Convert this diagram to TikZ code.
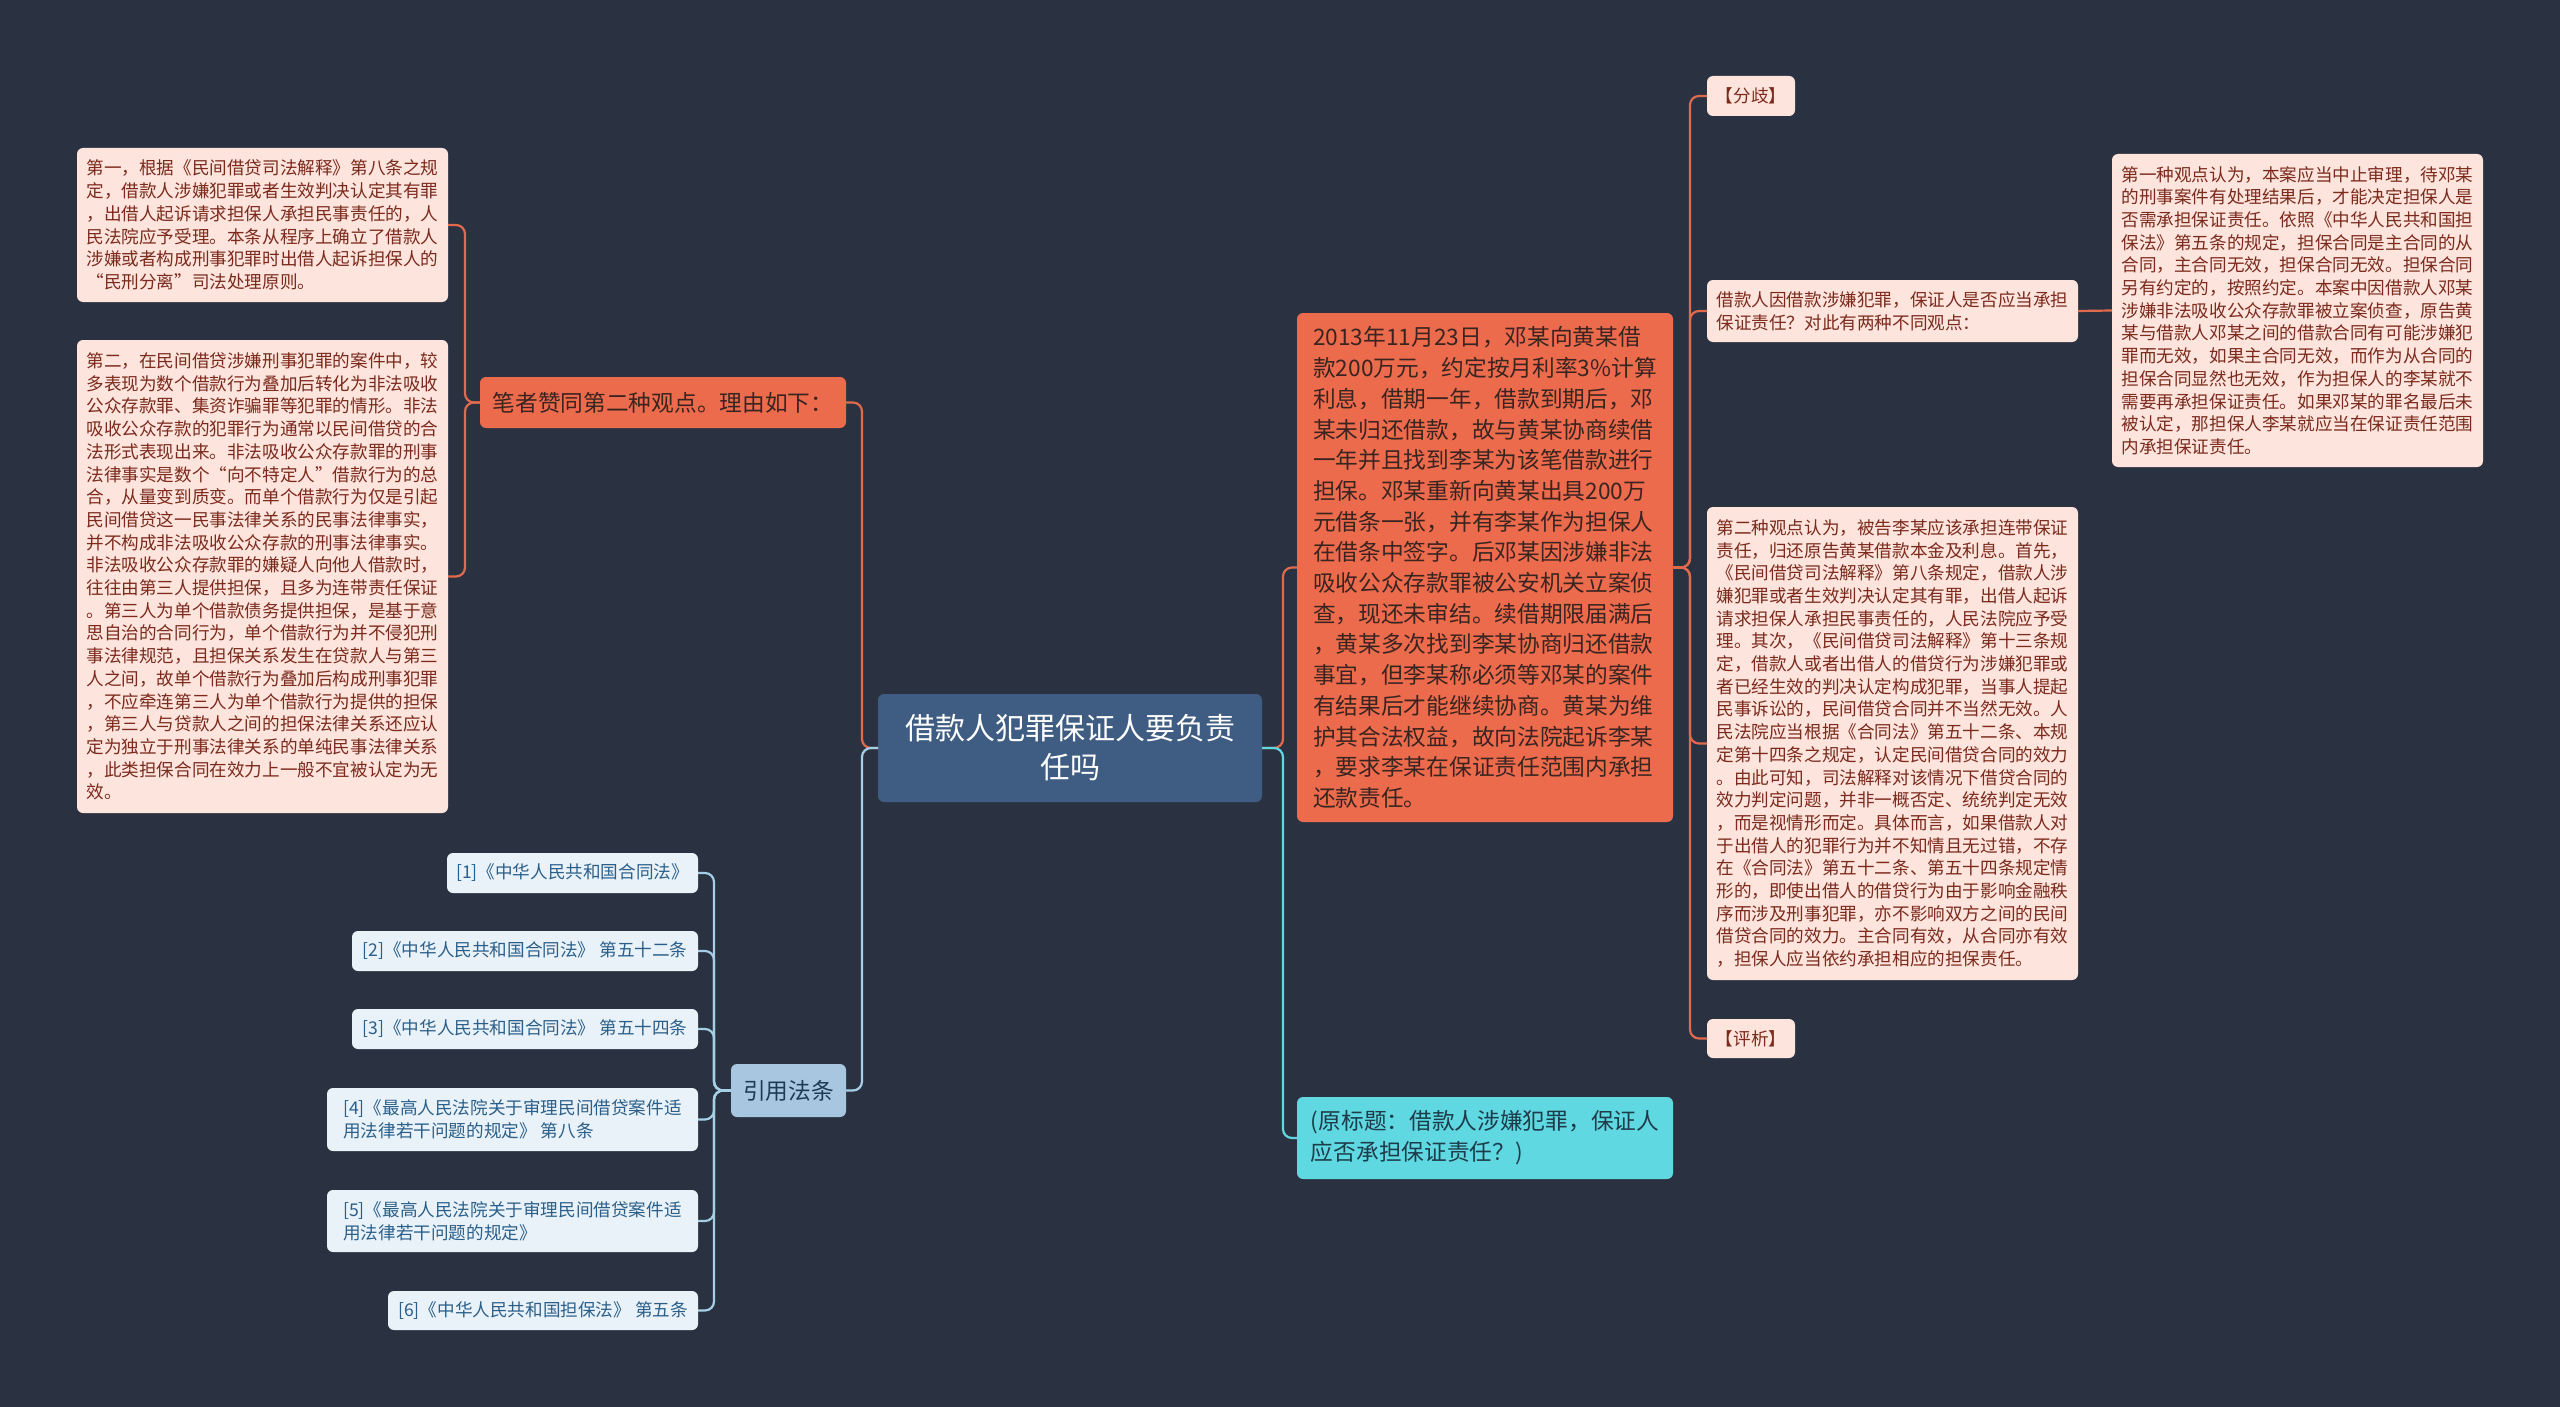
\documentclass[tikz,border=0pt]{standalone}
\usepackage{fontspec}
\setmainfont{Noto Sans CJK SC}
\definecolor{bg}{HTML}{2A3241}
\definecolor{ctrfill}{HTML}{3F5D82}
\definecolor{orfill}{HTML}{EC6B4D}
\definecolor{ortext}{HTML}{3A2420}
\definecolor{palefill}{HTML}{FDE4DD}
\definecolor{paletext}{HTML}{7B2A1C}
\definecolor{cyfill}{HTML}{5FD8E1}
\definecolor{cytext}{HTML}{1D3C4A}
\definecolor{reffill}{HTML}{A9C6E0}
\definecolor{reftext}{HTML}{1F3A55}
\definecolor{citefill}{HTML}{E9F2F8}
\definecolor{citetext}{HTML}{2B5F8A}
\definecolor{orline}{HTML}{E06A4E}
\definecolor{blline}{HTML}{A4CFE6}
\definecolor{cyline}{HTML}{5FD8E1}
\begin{document}
\begin{tikzpicture}[x=1pt,y=-1pt,
  box/.style={rectangle, rounded corners=6pt, inner sep=0pt, outer sep=0pt, align=left},
  pale/.style={box, fill=palefill, text=paletext, font=\fontsize{17.6}{22.7}\selectfont},
  cite/.style={box, fill=citefill, text=citetext, font=\fontsize{17.6}{22.7}\selectfont},
  bigor/.style={box, fill=orfill, text=ortext, font=\fontsize{22.7}{30.7}\selectfont},
  oline/.style={draw=orline, line width=2.2pt, rounded corners=9pt},
  bline/.style={draw=blline, line width=2.2pt, rounded corners=9pt},
  cline/.style={draw=cyline, line width=2.2pt, rounded corners=9pt}
]
\useasboundingbox (0,0) rectangle (2560,1407);
\fill[bg] (0,0) rectangle (2560,1407);

% central node
\node[box, fill=ctrfill, text=white, align=center, minimum width=384pt, minimum height=108pt,
  font=\fontsize{30}{39}\selectfont] (ctr) at (1070,748) {借款人犯罪保证人要负责\\任吗};

% right side
\node[bigor, minimum width=376pt, minimum height=509pt] (ob) at (1485,567.5)
{2013年11月23日，邓某向黄某借\\款200万元，约定按月利率3\%计算\\利息，借期一年，借款到期后，邓\\某未归还借款，故与黄某协商续借\\一年并且找到李某为该笔借款进行\\担保。邓某重新向黄某出具200万\\元借条一张，并有李某作为担保人\\在借条中签字。后邓某因涉嫌非法\\吸收公众存款罪被公安机关立案侦\\查，现还未审结。续借期限届满后\\，黄某多次找到李某协商归还借款\\事宜，但李某称必须等邓某的案件\\有结果后才能继续协商。黄某为维\\护其合法权益，故向法院起诉李某\\，要求李某在保证责任范围内承担\\还款责任。};

\node[box, fill=cyfill, text=cytext, minimum width=376pt, minimum height=82pt,
  font=\fontsize{22.7}{30.7}\selectfont] (yt) at (1485,1138)
{(原标题：借款人涉嫌犯罪，保证人\\应否承担保证责任？)};

\node[pale, minimum width=88pt, minimum height=40pt] (fq) at (1751,96) {【分歧】};
\node[pale, minimum width=371pt, minimum height=62pt] (jk) at (1892.5,311)
{借款人因借款涉嫌犯罪，保证人是否应当承担\\保证责任？对此有两种不同观点：};
\node[pale, minimum width=371pt, minimum height=313pt] (gd1) at (2297.5,310.5)
{第一种观点认为，本案应当中止审理，待邓某\\的刑事案件有处理结果后，才能决定担保人是\\否需承担保证责任。依照《中华人民共和国担\\保法》第五条的规定，担保合同是主合同的从\\合同，主合同无效，担保合同无效。担保合同\\另有约定的，按照约定。本案中因借款人邓某\\涉嫌非法吸收公众存款罪被立案侦查，原告黄\\某与借款人邓某之间的借款合同有可能涉嫌犯\\罪而无效，如果主合同无效，而作为从合同的\\担保合同显然也无效，作为担保人的李某就不\\需要再承担保证责任。如果邓某的罪名最后未\\被认定，那担保人李某就应当在保证责任范围\\内承担保证责任。};
\node[pale, minimum width=371pt, minimum height=473pt] (gd2) at (1892.5,743.5)
{第二种观点认为，被告李某应该承担连带保证\\责任，归还原告黄某借款本金及利息。首先，\\《民间借贷司法解释》第八条规定，借款人涉\\嫌犯罪或者生效判决认定其有罪，出借人起诉\\请求担保人承担民事责任的，人民法院应予受\\理。其次，《民间借贷司法解释》第十三条规\\定，借款人或者出借人的借贷行为涉嫌犯罪或\\者已经生效的判决认定构成犯罪，当事人提起\\民事诉讼的，民间借贷合同并不当然无效。人\\民法院应当根据《合同法》第五十二条、本规\\定第十四条之规定，认定民间借贷合同的效力\\。由此可知，司法解释对该情况下借贷合同的\\效力判定问题，并非一概否定、统统判定无效\\，而是视情形而定。具体而言，如果借款人对\\于出借人的犯罪行为并不知情且无过错，不存\\在《合同法》第五十二条、第五十四条规定情\\形的，即使出借人的借贷行为由于影响金融秩\\序而涉及刑事犯罪，亦不影响双方之间的民间\\借贷合同的效力。主合同有效，从合同亦有效\\，担保人应当依约承担相应的担保责任。};
\node[pale, minimum width=88pt, minimum height=39pt] (px) at (1751,1038.5) {【评析】};

% left side
\node[bigor, minimum width=366pt, minimum height=51pt] (bz) at (663,402.5) {笔者赞同第二种观点。理由如下：};
\node[pale, minimum width=371pt, minimum height=154pt] (ly1) at (262.5,225)
{第一，根据《民间借贷司法解释》第八条之规\\定，借款人涉嫌犯罪或者生效判决认定其有罪\\，出借人起诉请求担保人承担民事责任的，人\\民法院应予受理。本条从程序上确立了借款人\\涉嫌或者构成刑事犯罪时出借人起诉担保人的\\“民刑分离”司法处理原则。};
\node[pale, minimum width=371pt, minimum height=473pt] (ly2) at (262.5,576.5)
{第二，在民间借贷涉嫌刑事犯罪的案件中，较\\多表现为数个借款行为叠加后转化为非法吸收\\公众存款罪、集资诈骗罪等犯罪的情形。非法\\吸收公众存款的犯罪行为通常以民间借贷的合\\法形式表现出来。非法吸收公众存款罪的刑事\\法律事实是数个“向不特定人”借款行为的总\\合，从量变到质变。而单个借款行为仅是引起\\民间借贷这一民事法律关系的民事法律事实，\\并不构成非法吸收公众存款的刑事法律事实。\\非法吸收公众存款罪的嫌疑人向他人借款时，\\往往由第三人提供担保，且多为连带责任保证\\。第三人为单个借款债务提供担保，是基于意\\思自治的合同行为，单个借款行为并不侵犯刑\\事法律规范，且担保关系发生在贷款人与第三\\人之间，故单个借款行为叠加后构成刑事犯罪\\，不应牵连第三人为单个借款行为提供的担保\\，第三人与贷款人之间的担保法律关系还应认\\定为独立于刑事法律关系的单纯民事法律关系\\，此类担保合同在效力上一般不宜被认定为无\\效。};

\node[box, fill=reffill, text=reftext, minimum width=115pt, minimum height=53pt,
  font=\fontsize{22.7}{30.7}\selectfont] (yy) at (788.5,1090.5) {引用法条};
\node[cite, minimum width=251pt, minimum height=40pt] (c1) at (572.5,873) {[1]《中华人民共和国合同法》};
\node[cite, minimum width=346pt, minimum height=40pt] (c2) at (525,951) {[2]《中华人民共和国合同法》 第五十二条};
\node[cite, minimum width=346pt, minimum height=40pt] (c3) at (525,1029) {[3]《中华人民共和国合同法》 第五十四条};
\node[cite, minimum width=371pt, minimum height=63pt] (c4) at (512.5,1119.5) {[4]《最高人民法院关于审理民间借贷案件适\\用法律若干问题的规定》 第八条};
\node[cite, minimum width=371pt, minimum height=62pt] (c5) at (512.5,1221) {[5]《最高人民法院关于审理民间借贷案件适\\用法律若干问题的规定》};
\node[cite, minimum width=310pt, minimum height=39pt] (c6) at (543,1310.5) {[6]《中华人民共和国担保法》 第五条};

% connectors right
\draw[oline] (ctr.east) -- ++(21,0) |- (ob.west);
\draw[cline] (ctr.east) -- ++(21,0) |- (yt.west);
\draw[oline] (ob.east) -- ++(17,0) |- (fq.west);
\draw[oline] (ob.east) -- ++(17,0) |- (jk.west);
\draw[oline] (ob.east) -- ++(17,0) |- (gd2.west);
\draw[oline] (ob.east) -- ++(17,0) |- (px.west);
\draw[oline] (jk.east) -- (gd1.west);

% connectors left
\draw[oline] (ctr.west) -- ++(-16,0) |- (bz.east);
\draw[bline] (ctr.west) -- ++(-16,0) |- (yy.east);
\draw[oline] (bz.west) -- ++(-15,0) |- (ly1.east);
\draw[oline] (bz.west) -- ++(-15,0) |- (ly2.east);
\foreach \c in {c1,c2,c3,c4,c5,c6}
  \draw[bline] (yy.west) -- ++(-17,0) |- (\c.east);
\end{tikzpicture}
\end{document}
